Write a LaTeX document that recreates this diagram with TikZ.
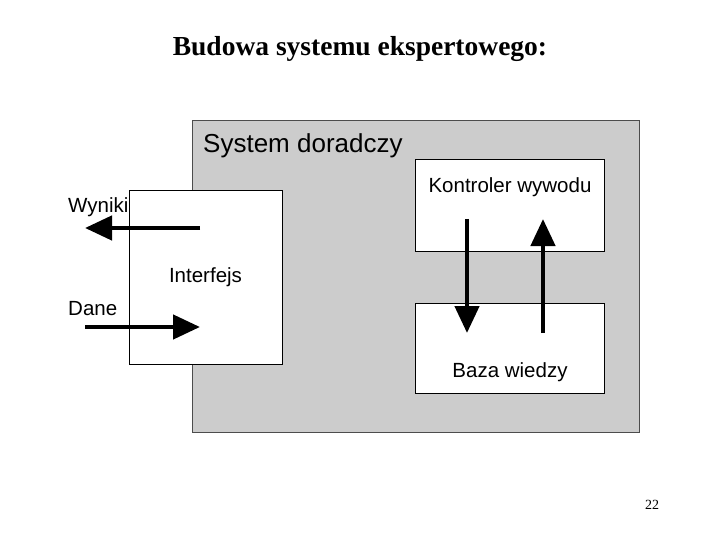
\documentclass[tikz,border=0pt]{standalone}
\usepackage{fontspec}
\setmainfont{Liberation Serif}
\setsansfont{Liberation Sans}
\usetikzlibrary{arrows.meta,positioning}

\begin{document}
\begin{tikzpicture}[x=1pt, y=-1pt, font=\sffamily\fontsize{20.5}{24}\selectfont,
  box/.style={draw, line width=1pt, fill=white, inner sep=0pt},
  lbl/.style={inner sep=0pt},
  flow/.style={-{Triangle[length=27pt, width=24pt]}, line width=4.5pt}]
\useasboundingbox (0,0) rectangle (720,540);

\node[lbl, font=\rmfamily\bfseries\fontsize{27.5}{32}\selectfont] (title) at (360,49) {Budowa systemu ekspertowego:};

% system doradczy
\node[draw=black!70, line width=1pt, fill=gray!40, minimum width=447pt, minimum height=311pt] (system) at (415.5,276.5) {};
\node[lbl, anchor=base west, font=\sffamily\fontsize{26}{30}\selectfont] (systemlbl) at (203,153) {System doradczy};

% skrzynki
\node[box, minimum width=153pt, minimum height=173pt] (interfejs) at (205.5,277.5) {Interfejs};
\node[box, minimum width=189pt, minimum height=91pt] (kontroler) at (509.5,205.5) {};
\node[lbl, anchor=base] (kontrolerlbl) at (510,193) {Kontroler wywodu};
\node[box, minimum width=189pt, minimum height=90pt] (baza) at (509.5,348) {};
\node[lbl, anchor=base] (bazalbl) at (510,377) {Baza wiedzy};

% wejscie / wyjscie
\node[lbl, anchor=base west] (wyniki) at (68,212) {Wyniki};
\node[lbl, anchor=base west] (dane) at (68,315) {Dane};
\coordinate (wynikiin) at (200,228);
\coordinate (wynikiout) at (85,228);
\coordinate (danein) at (85,327);
\coordinate (daneout) at (200,327);
\draw[flow] (wynikiin) -- (wynikiout);
\draw[flow] (danein) -- (daneout);

% kontroler <-> baza
\coordinate (kb1) at (467,219);
\coordinate (kb2) at (467,333);
\coordinate (bk1) at (543,333);
\coordinate (bk2) at (543,219);
\draw[flow] (kb1) -- (kb2);
\draw[flow] (bk1) -- (bk2);

\node[lbl, font=\rmfamily\fontsize{14}{16}\selectfont] (slide) at (652,505) {22};
\end{tikzpicture}
\end{document}
